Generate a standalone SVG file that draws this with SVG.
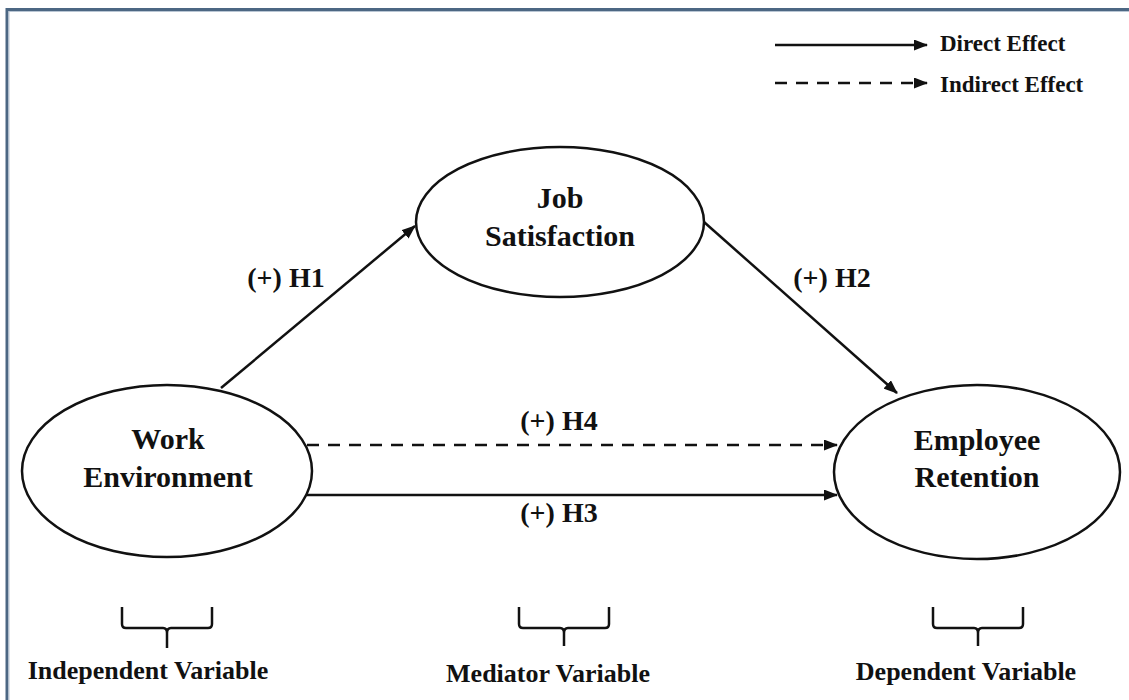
<svg xmlns="http://www.w3.org/2000/svg" width="1129" height="700" viewBox="0 0 1129 700">
<style>
text{font-family:"Liberation Serif","Times New Roman",serif;font-weight:bold;fill:#111;text-anchor:middle}
.node{font-size:30px}
.lab{font-size:28px}
.leg{font-size:23px;text-anchor:start}
.bot{font-size:26px}
ellipse{fill:#fff;stroke:#111;stroke-width:2.5}
.ln{stroke:#111;stroke-width:2.5;fill:none}
.dash{stroke-dasharray:12 9}
.brace{stroke:#111;stroke-width:2.5;fill:none}
</style>
<defs>
<marker id="ah" markerWidth="14" markerHeight="11" refX="13" refY="5.5" orient="auto" markerUnits="userSpaceOnUse">
<path d="M0,0 L14,5.5 L0,11 Z" fill="#111"/>
</marker>
</defs>
<rect width="1129" height="700" fill="#fff"/>
<path d="M7,700 L7,9.5 L1129,9.5" fill="none" stroke="#4c6783" stroke-width="3"/>
<path d="M9,700 L9,11.5 L1129,11.5" fill="none" stroke="#b9c6d4" stroke-width="1"/>

<g id="legend">
<line class="ln" x1="775" y1="45" x2="927" y2="45" marker-end="url(#ah)"/>
<text class="leg" x="940" y="51">Direct Effect</text>
<line class="ln dash" x1="775" y1="83" x2="927" y2="83" marker-end="url(#ah)"/>
<text class="leg" x="940" y="92">Indirect Effect</text>
</g>

<g id="connectors">
<line class="ln" x1="221" y1="388" x2="415" y2="226" marker-end="url(#ah)"/>
<line class="ln" x1="704" y1="222" x2="897" y2="393" marker-end="url(#ah)"/>
<line class="ln dash" x1="307" y1="445" x2="837" y2="445" marker-end="url(#ah)"/>
<line class="ln" x1="307" y1="495" x2="837" y2="495" marker-end="url(#ah)"/>
<text class="lab" x="286" y="287">(+) H1</text>
<text class="lab" x="832" y="287">(+) H2</text>
<text class="lab" x="559" y="430">(+) H4</text>
<text class="lab" x="559" y="522">(+) H3</text>
</g>

<g id="job-satisfaction">
<ellipse cx="560" cy="222" rx="144" ry="75"/>
<text class="node" x="560" y="208">Job</text>
<text class="node" x="560" y="246">Satisfaction</text>
</g>

<g id="work-environment">
<ellipse cx="167" cy="471" rx="145" ry="86"/>
<text class="node" x="168" y="449">Work</text>
<text class="node" x="168" y="487">Environment</text>
</g>

<g id="employee-retention">
<ellipse cx="977" cy="472" rx="143" ry="87"/>
<text class="node" x="977" y="450">Employee</text>
<text class="node" x="977" y="487">Retention</text>
</g>

<g id="independent-variable">
<path class="brace" d="M122,607 L122,624 Q122,628 126,628 L163,628 Q167,628 167,633 L167,648 M167,633 Q167,628 171,628 L208,628 Q212,628 212,624 L212,607"/>
<text class="bot" x="148" y="679">Independent Variable</text>
</g>

<g id="mediator-variable">
<path class="brace" d="M519,607 L519,624 Q519,628 523,628 L560,628 Q564,628 564,633 L564,646 M564,633 Q564,628 568,628 L605,628 Q609,628 609,624 L609,607"/>
<text class="bot" x="548" y="682">Mediator Variable</text>
</g>

<g id="dependent-variable">
<path class="brace" d="M933,607 L933,624 Q933,628 937,628 L974,628 Q978,628 978,633 L978,646 M978,633 Q978,628 982,628 L1019,628 Q1023,628 1023,624 L1023,607"/>
<text class="bot" x="966" y="680">Dependent Variable</text>
</g>
</svg>
